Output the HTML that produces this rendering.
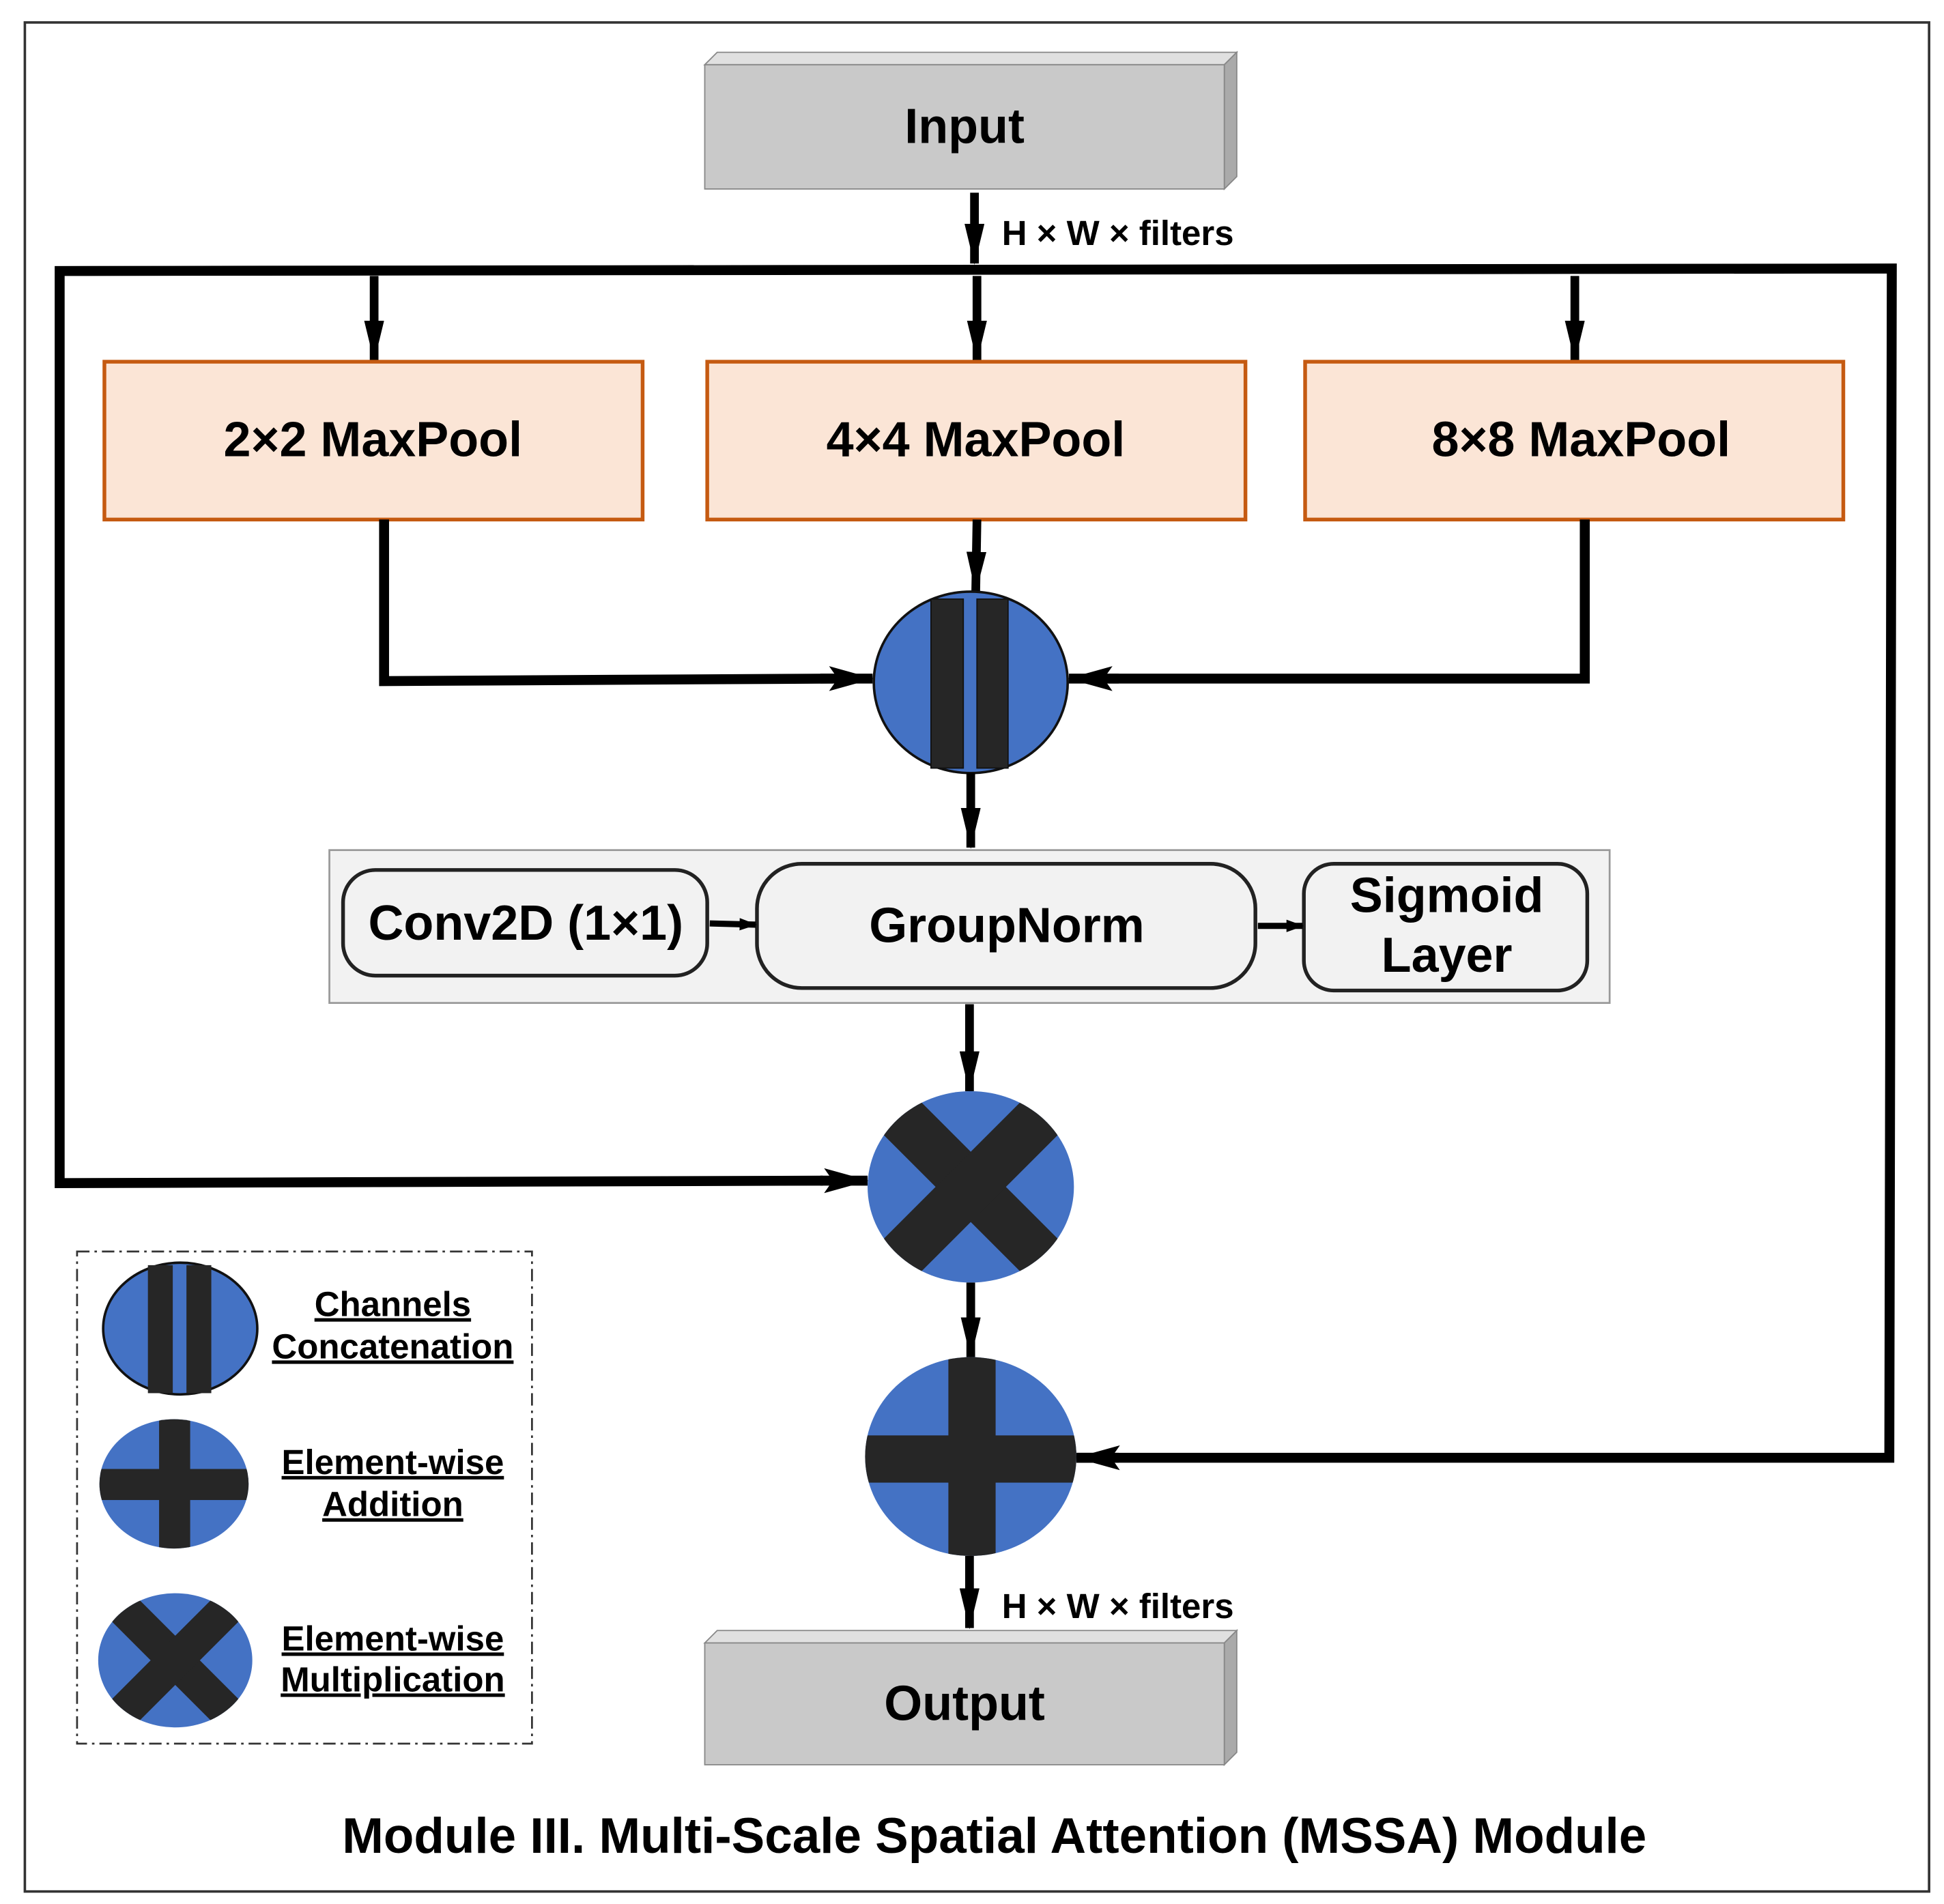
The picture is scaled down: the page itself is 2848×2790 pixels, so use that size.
<!DOCTYPE html>
<html><head><meta charset="utf-8"><style>html,body{margin:0;padding:0;background:#fff}svg{display:block}</style></head>
<body>
<svg width="2848" height="2790" viewBox="0 0 1564 1532" xmlns="http://www.w3.org/2000/svg" font-family="Liberation Sans, sans-serif" font-weight="bold">
<defs>
<marker id="a" markerWidth="14" markerHeight="10" refX="13" refY="5" orient="auto" markerUnits="userSpaceOnUse"><path d="M0,0 L14,5 L0,10 z" fill="#000"/></marker>
<marker id="b" markerWidth="36" markerHeight="20" refX="35" refY="10" orient="auto" markerUnits="userSpaceOnUse"><path d="M0,0 L36,10 L0,20 L7,10 z" fill="#000"/></marker>
<marker id="c" markerWidth="33" markerHeight="16" refX="32" refY="8" orient="auto" markerUnits="userSpaceOnUse"><path d="M0,0 L33,8 L0,16 z" fill="#000"/></marker>
</defs>
<rect x="20" y="18" width="1532" height="1504" fill="#fff" stroke="#333" stroke-width="2"/>
<!-- Input -->
<polygon points="567,52 577,42 995,42 985,52" fill="#e0e0e0" stroke="#888" stroke-width="1"/>
<polygon points="985,52 995,42 995,142 985,152" fill="#aaa" stroke="#888" stroke-width="1"/>
<rect x="567" y="52" width="418" height="100" fill="#c9c9c9" stroke="#888" stroke-width="1"/>
<text x="776" y="115" font-size="39.5" text-anchor="middle">Input</text>
<line x1="784" y1="155" x2="784" y2="212" stroke="#000" stroke-width="7" marker-end="url(#c)"/>
<text x="806" y="197" font-size="28">H × W × filters</text>
<!-- big loop -->
<polyline points="662,950 48,952 48,218 1522,216 1520,1173 866,1173" fill="none" stroke="#000" stroke-width="8"/>
<line x1="660" y1="950" x2="698" y2="950" stroke="#000" stroke-width="8" marker-end="url(#b)"/>
<line x1="900" y1="1173" x2="866" y2="1173" stroke="#000" stroke-width="8" marker-end="url(#b)"/>
<line x1="301" y1="222" x2="301" y2="290" stroke="#000" stroke-width="7" marker-end="url(#c)"/>
<line x1="786" y1="222" x2="786" y2="290" stroke="#000" stroke-width="7" marker-end="url(#c)"/>
<line x1="1267" y1="222" x2="1267" y2="290" stroke="#000" stroke-width="7" marker-end="url(#c)"/>
<!-- maxpools -->
<g fill="#fbe5d6" stroke="#c55a11" stroke-width="3">
<rect x="84" y="291" width="433" height="127"/><rect x="569" y="291" width="433" height="127"/><rect x="1050" y="291" width="433" height="127"/></g>
<g font-size="39.5" text-anchor="middle"><text x="300" y="367">2×2 MaxPool</text><text x="785" y="367">4×4 MaxPool</text><text x="1272" y="367">8×8 MaxPool</text></g>
<polyline points="309,418 309,548 670,546" fill="none" stroke="#000" stroke-width="8"/>
<line x1="660" y1="546" x2="702" y2="546" stroke="#000" stroke-width="8" marker-end="url(#b)"/>
<polyline points="1275,418 1275,546 892,546" fill="none" stroke="#000" stroke-width="8"/>
<line x1="900" y1="546" x2="860" y2="546" stroke="#000" stroke-width="8" marker-end="url(#b)"/>
<line x1="786" y1="418" x2="785" y2="476" stroke="#000" stroke-width="7" marker-end="url(#c)"/>
<!-- concat -->
<ellipse cx="781" cy="549" rx="78" ry="73" fill="#4472c4" stroke="#111" stroke-width="2"/>
<rect x="749" y="482" width="26" height="136" fill="#262626" stroke="#111"/><rect x="786" y="482" width="25" height="136" fill="#262626" stroke="#111"/>
<line x1="781" y1="622" x2="781" y2="682" stroke="#000" stroke-width="7" marker-end="url(#c)"/>
<!-- panel -->
<rect x="265" y="684" width="1030" height="123" fill="#f2f2f2" stroke="#999" stroke-width="1.5"/>
<g fill="#f2f2f2" stroke="#222" stroke-width="3">
<rect x="276" y="700" width="293" height="85" rx="26"/><rect x="609" y="695" width="401" height="100" rx="36"/><rect x="1049" y="695" width="228" height="102" rx="24"/></g>
<g font-size="39.5" text-anchor="middle"><text x="423" y="756">Conv2D (1×1)</text><text x="810" y="758">GroupNorm</text><text x="1164" y="734">Sigmoid</text><text x="1164" y="782">Layer</text></g>
<line x1="571" y1="743" x2="608" y2="744" stroke="#000" stroke-width="5" marker-end="url(#a)"/>
<line x1="1012" y1="745" x2="1048" y2="745" stroke="#000" stroke-width="5" marker-end="url(#a)"/>
<line x1="780" y1="808" x2="780" y2="878" stroke="#000" stroke-width="7" marker-end="url(#c)"/>
<!-- multiply -->
<clipPath id="m"><ellipse cx="781" cy="955" rx="83" ry="77"/></clipPath>
<ellipse cx="781" cy="955" rx="83" ry="77" fill="#4472c4"/>
<g clip-path="url(#m)" stroke="#262626" stroke-width="40"><line x1="711" y1="885" x2="851" y2="1025"/><line x1="851" y1="885" x2="711" y2="1025"/></g>
<line x1="781" y1="1032" x2="781" y2="1092" stroke="#000" stroke-width="7" marker-end="url(#c)"/>
<!-- add -->
<clipPath id="p"><ellipse cx="781" cy="1172" rx="85" ry="80"/></clipPath>
<ellipse cx="781" cy="1172" rx="85" ry="80" fill="#4472c4"/>
<g clip-path="url(#p)" fill="#262626"><rect x="763" y="1090" width="38" height="165"/><rect x="695" y="1155" width="172" height="38"/></g>
<line x1="780" y1="1252" x2="780" y2="1310" stroke="#000" stroke-width="7" marker-end="url(#c)"/>
<text x="806" y="1302" font-size="28">H × W × filters</text>
<!-- output -->
<polygon points="567,1322 577,1312 995,1312 985,1322" fill="#e0e0e0" stroke="#888" stroke-width="1"/>
<polygon points="985,1322 995,1312 995,1410 985,1420" fill="#aaa" stroke="#888" stroke-width="1"/>
<rect x="567" y="1322" width="418" height="98" fill="#c9c9c9" stroke="#888" stroke-width="1"/>
<text x="776" y="1384" font-size="39.5" text-anchor="middle">Output</text>
<!-- legend -->
<rect x="62" y="1007" width="366" height="396" fill="none" stroke="#333" stroke-width="1.5" stroke-dasharray="10,4,2,4"/>
<ellipse cx="145" cy="1069" rx="62" ry="53" fill="#4472c4" stroke="#111" stroke-width="2"/>
<rect x="119" y="1018" width="20" height="103" fill="#262626"/><rect x="150" y="1018" width="20" height="103" fill="#262626"/>
<clipPath id="lp"><ellipse cx="140" cy="1194" rx="60" ry="52"/></clipPath>
<ellipse cx="140" cy="1194" rx="60" ry="52" fill="#4472c4"/>
<g clip-path="url(#lp)" fill="#262626"><rect x="128" y="1140" width="25" height="110"/><rect x="78" y="1182" width="124" height="25"/></g>
<clipPath id="lm"><ellipse cx="141" cy="1336" rx="62" ry="54"/></clipPath>
<ellipse cx="141" cy="1336" rx="62" ry="54" fill="#4472c4"/>
<g clip-path="url(#lm)" stroke="#262626" stroke-width="28"><line x1="91" y1="1286" x2="191" y2="1386"/><line x1="191" y1="1286" x2="91" y2="1386"/></g>
<g font-size="28" text-anchor="middle" text-decoration="underline">
<text x="316" y="1059">Channels</text><text x="316" y="1093">Concatenation</text>
<text x="316" y="1186">Element-wise</text><text x="316" y="1220">Addition</text>
<text x="316" y="1328">Element-wise</text><text x="316" y="1361">Multiplication</text></g>
<text x="800" y="1491" font-size="40" text-anchor="middle">Module III. Multi-Scale Spatial Attention (MSSA) Module</text>
</svg>
</body></html>
